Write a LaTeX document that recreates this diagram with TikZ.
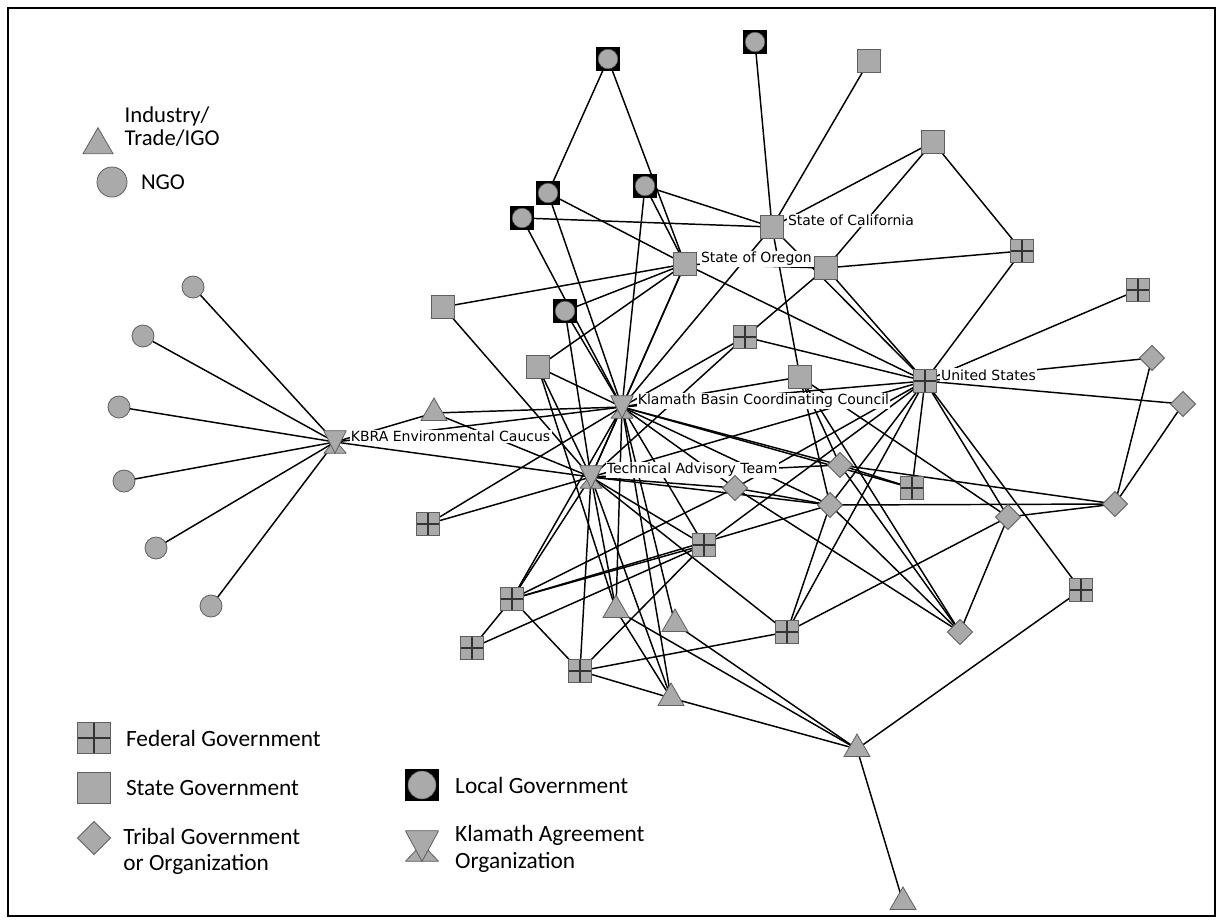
\documentclass[tikz,border=0pt]{standalone}
\usepackage{fontspec}
\setmainfont{Carlito}
\newfontfamily\netfont{DejaVu Sans}
\usetikzlibrary{shapes.geometric, positioning, backgrounds}
\definecolor{nodegray}{RGB}{170,170,170}
\definecolor{nodeedge}{RGB}{95,95,95}
\pgfdeclarelayer{labels}
\pgfsetlayers{background,labels,main}

\begin{document}
\begin{tikzpicture}[
    x=0.75pt, y=-0.75pt,
    state/.style={rectangle, draw=nodeedge, fill=nodegray, line width=0.6pt, minimum size=17pt, inner sep=0pt},
    federal/.style={state, path picture={
        \draw[black!80, line width=0.9pt] (path picture bounding box.north) -- (path picture bounding box.south)
            (path picture bounding box.west) -- (path picture bounding box.east);}},
    localgov/.style={rectangle, draw=black, fill=black, minimum size=17pt, inner sep=0pt, path picture={
        \filldraw[fill=nodegray, draw=nodeedge, line width=0.4pt] (path picture bounding box.center) circle (#1);}},
    localgov/.default=7.3pt,
    ngo/.style={circle, draw=nodeedge, fill=nodegray, line width=0.6pt, minimum size=16.5pt, inner sep=0pt},
    tribal/.style={diamond, draw=nodeedge, fill=nodegray, line width=0.6pt, minimum size=19pt, inner sep=0pt},
    industry/.style={regular polygon, regular polygon sides=3, draw=nodeedge, fill=nodegray, line width=0.6pt, minimum size=22.5pt, inner sep=0pt},
    kao/.style={rectangle, minimum size=17pt, inner sep=0pt, path picture={
        \filldraw[fill=nodegray, draw=nodeedge, line width=0.6pt] (path picture bounding box.south west) -- (path picture bounding box.south east)
            -- ([yshift=1.5pt]path picture bounding box.center) -- cycle;
        \filldraw[fill=nodegray, draw=nodeedge, line width=0.6pt] (path picture bounding box.north west) -- (path picture bounding box.north east)
            -- (path picture bounding box.south) -- cycle;}},
    tie/.style={black, line width=1.1pt},
    nlabel/.style={font=\netfont\fontsize{10.5}{12}\selectfont, fill=white, inner sep=1pt},
    legtext/.style={font=\fontsize{17.5}{20}\selectfont, align=left, inner sep=0pt},
    toptext/.style={font=\fontsize{17}{17.5}\selectfont, align=left, inner sep=0pt}
]
    \useasboundingbox (0,0) rectangle (1221,922);
    \draw[line width=1.5pt] (8,8) rectangle (1215,916);

    % Local governments
    \node[localgov] (L1) at (608,59) {};
    \node[localgov] (L2) at (755,42) {};
    \node[localgov] (L3) at (548,193) {};
    \node[localgov] (L4) at (645,186) {};
    \node[localgov] (L5) at (522,218) {};
    \node[localgov] (L6) at (565,311) {};

    % State governments
    \node[state] (S1) at (869,61) {};
    \node[state] (S2) at (933,142) {};
    \node[state] (CA) at (772,227) {};
    \node[state] (OR) at (685,264) {};
    \node[state] (S3) at (826,268) {};
    \node[state] (S4) at (443,307) {};
    \node[state] (S5) at (538,367) {};
    \node[state] (S6) at (800,377) {};

    % Federal government
    \node[federal] (F1) at (1022,251) {};
    \node[federal] (F2) at (1138,290) {};
    \node[federal] (F3) at (745,337) {};
    \node[federal] (US) at (925,381) {};
    \node[federal] (F4) at (428,524) {};
    \node[federal] (F5) at (912,488) {};
    \node[federal] (F6) at (704,545) {};
    \node[federal] (F7) at (512,599) {};
    \node[federal] (F8) at (472,648) {};
    \node[federal] (F9) at (580,671) {};
    \node[federal] (F10) at (787,632) {};
    \node[federal] (F11) at (1081,590) {};

    % Tribal governments
    \node[tribal] (T1) at (1152,358) {};
    \node[tribal] (T2) at (1183,404) {};
    \node[tribal] (T3) at (840,465) {};
    \node[tribal] (T4) at (735,488) {};
    \node[tribal] (T5) at (830,505) {};
    \node[tribal] (T6) at (1008,517) {};
    \node[tribal] (T7) at (1115,504) {};
    \node[tribal] (T8) at (960,632) {};

    % Industry / trade / IGO
    \node[industry] (I1) at (434,413) {};
    \node[industry] (I2) at (616,610) {};
    \node[industry] (I3) at (675,624) {};
    \node[industry] (I4) at (671,698) {};
    \node[industry] (I5) at (857,749) {};
    \node[industry] (I6) at (903,902) {};

    % NGOs
    \node[ngo] (N1) at (193,287) {};
    \node[ngo] (N2) at (143,336) {};
    \node[ngo] (N3) at (119,407) {};
    \node[ngo] (N4) at (124,481) {};
    \node[ngo] (N5) at (156,548) {};
    \node[ngo] (N6) at (211,606) {};

    % Klamath agreement organizations
    \node[kao] (KBRA) at (335,442) {};
    \node[kao] (KBCC) at (622,407) {};
    \node[kao] (TAT) at (591,477) {};

    % Ties
    \begin{scope}[on background layer]
    \foreach \a/\b in {N1/KBRA, N2/KBRA, N3/KBRA, N4/KBRA, N5/KBRA, N6/KBRA,
        KBRA/I1, KBRA/TAT, KBRA/KBCC, I1/KBCC, I1/TAT,
        L1/L3, L1/OR, L2/CA, L3/OR, L3/KBCC, L4/CA, L4/OR, L4/KBCC, L5/CA, L5/KBCC,
        L6/OR, L6/KBCC, L6/TAT,
        S1/CA, S2/CA, S2/S3, S2/F1, S3/OR, S3/F1, S3/US, S3/F3,
        CA/KBCC, CA/S6, CA/US, OR/S4, OR/S5, OR/KBCC, OR/TAT, OR/US,
        S4/TAT, S5/KBCC, S5/TAT, S5/I2, S6/KBCC, S6/T3, S6/T5, S6/T6, S6/T8,
        F3/KBCC, F3/TAT, F3/US, F1/US, F2/US, T1/US, T1/T7, T2/US, T2/T7,
        US/KBCC, US/TAT, US/T4, US/T5, US/F5, US/F6, US/F10, US/T6, US/F11,
        KBCC/TAT, KBCC/T3, KBCC/F5, KBCC/T4, KBCC/T5, KBCC/F6, KBCC/F4, KBCC/F7,
        KBCC/I2, KBCC/I3, KBCC/I4,
        TAT/T3, TAT/T4, TAT/T5, TAT/F4, TAT/F7, TAT/F9, TAT/F10, TAT/F6, TAT/I2, TAT/I4,
        T3/F5, T3/T7, T3/T8, T4/T5, T4/T8, T4/F7, T5/T7, T5/T8, T5/F10, T5/F7,
        T6/T7, T6/T8, T6/F10, F6/F7, F6/F8, F6/F9, F7/F8, F7/F9, F9/F10, F9/I4,
        I2/I4, I2/I5, I3/I5, I4/I5, I5/F11, I5/I6}
        \draw[tie] (\a.center) -- (\b.center);
    \end{scope}

    % Labels
    \begin{pgfonlayer}{labels}
    \node[nlabel, right=2pt of CA, yshift=5pt] (CAtext) {State of California};
    \node[nlabel, right=2pt of OR, yshift=4pt] (ORtext) {State of Oregon};
    \node[nlabel, right=2pt of US, yshift=4.5pt] (UStext) {United States};
    \node[nlabel, right=2pt of KBCC, yshift=4.5pt] (KBCCtext) {Klamath Basin Coordinating Council};
    \node[nlabel, right=2pt of TAT, yshift=5.5pt] (TATtext) {Technical Advisory Team};
    \node[nlabel, right=2pt of KBRA, yshift=4pt] (KBRAtext) {KBRA Environmental Caucus};
    \end{pgfonlayer}

    % Legend
    \node[industry, minimum size=26pt] (legind) at (98,145) {};
    \node[toptext, right=12pt of legind, yshift=14pt] (legindtext) {Industry/\\Trade/IGO};
    \node[ngo, minimum size=22.5pt] (legngo) at (112,182) {};
    \node[toptext, right=10pt of legngo] (legngotext) {NGO};

    \node[federal, minimum width=25pt, minimum height=23pt] (legfed) at (94,738) {};
    \node[legtext, right=11pt of legfed] (legfedtext) {Federal Government};
    \node[state, minimum width=25pt, minimum height=23pt] (legstate) at (94,788) {};
    \node[legtext, right=11pt of legstate] (legstatetext) {State Government};
    \node[tribal, minimum size=25pt] (legtrib) at (94,838) {};
    \node[legtext, right=9pt of legtrib, yshift=-10pt] (legtribtext) {Tribal Government\\or Organization};

    \node[localgov=10.5pt, minimum width=25pt, minimum height=23pt] (legloc) at (422,785) {};
    \node[legtext, right=12pt of legloc] (legloctext) {Local Government};
    \node[kao, minimum width=25pt, minimum height=23pt] (legkao) at (422,846) {};
    \node[legtext, right=12pt of legkao, yshift=-2pt] (legkaotext) {Klamath Agreement\\Organization};
\end{tikzpicture}
\end{document}
